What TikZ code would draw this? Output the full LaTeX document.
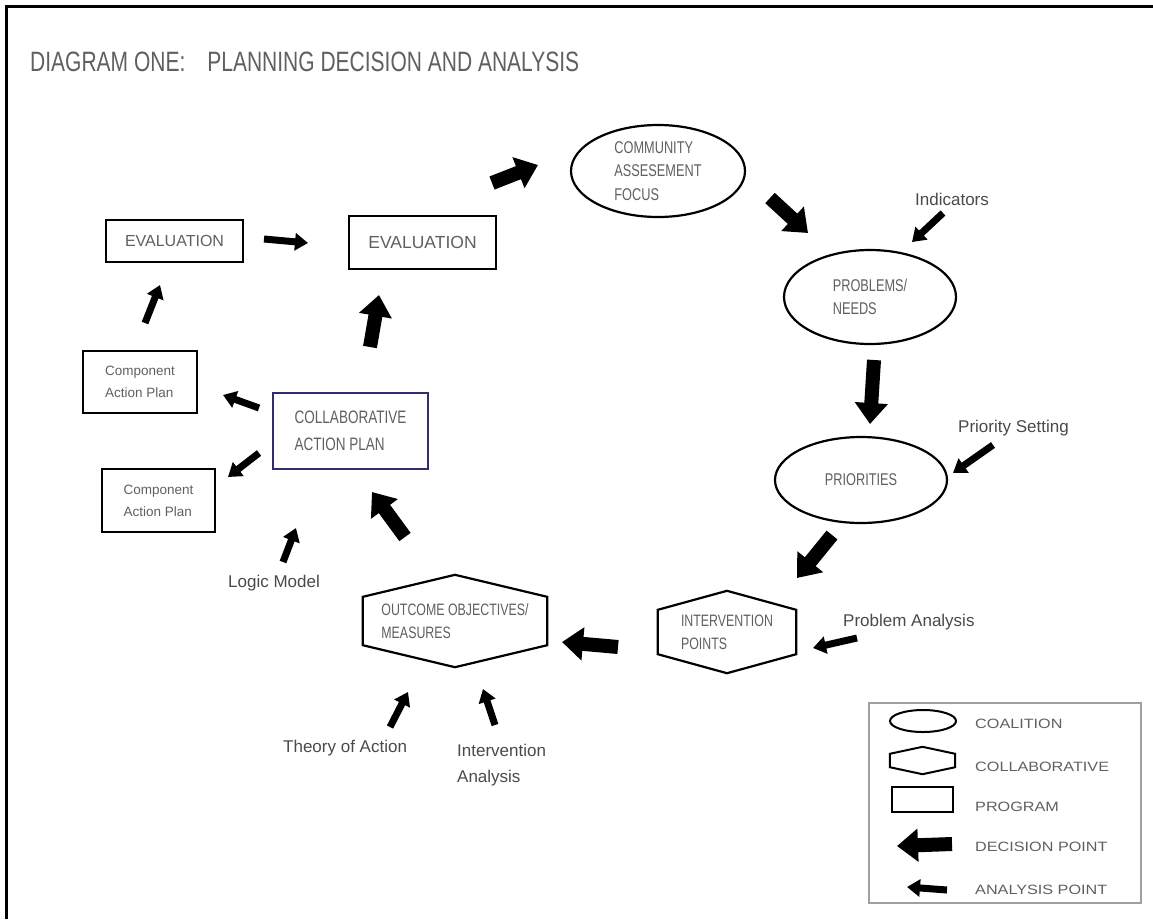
\documentclass[tikz,border=0pt]{standalone}
\usepackage{fontspec}
\setmainfont{Liberation Sans}
\newfontfamily\narrowfont{Liberation Sans}[FakeStretch=0.75]
\newfontfamily\widefont{Liberation Sans}[FakeStretch=1.2]
\usetikzlibrary{shapes.geometric,arrows.meta}
\definecolor{ink}{HTML}{606060}
\definecolor{labelink}{HTML}{4A4A4A}
\definecolor{navy}{HTML}{2E2E6E}
\definecolor{legendline}{HTML}{A0A0A0}

\tikzset{
  coalition/.style={ellipse, draw, line width=2.2pt, inner sep=0pt, text=ink, align=left,
    font=\narrowfont\fontsize{17}{23.5}\selectfont},
  collab/.style={draw=none, inner sep=0pt, text=ink, align=left,
    font=\narrowfont\fontsize{16.5}{23}\selectfont},
  program/.style={rectangle, draw, line width=2.2pt, inner sep=0pt, text=ink, align=left},
  decision/.style={line width=14pt, -{Triangle[length=21pt,width=32pt]}},
  analysis/.style={line width=7pt, -{Triangle[length=13pt,width=17pt]}},
  lbl/.style={text=labelink, inner sep=0pt, align=left, font=\fontsize{17}{26}\selectfont},
  legendlbl/.style={text=ink, inner sep=0pt, anchor=west, font=\widefont\fontsize{13.5}{16}\selectfont},
}

% hexagon outline around a text node: flat vertical sides, pointed top and bottom
\newcommand\hexoutline[3][2.2pt]{%
  \draw[line width=#1, line join=miter] (#2.north west) -- ([yshift=#3]#2.north)
    -- (#2.north east) -- (#2.south east) -- ([yshift=-#3]#2.south)
    -- (#2.south west) -- cycle;}

\begin{document}
\begin{tikzpicture}[x=1pt,y=-1pt]
\useasboundingbox (0,0) rectangle (1153,919);
\fill[white] (0,0) rectangle (1153,919);

% frame on the left and top
\draw[line width=3pt] (6,919) -- (6,6) -- (1153,6);

% title
\node[anchor=base west, inner sep=0pt, text=ink, font=\narrowfont\fontsize{28}{30}\selectfont]
  (title) at (30,71) {DIAGRAM ONE:\hspace{22pt}PLANNING DECISION AND ANALYSIS};

% coalition stages
\node[coalition, minimum width=174pt, minimum height=92pt] (comm) at (658,171)
  {COMMUNITY\\ASSESEMENT\\FOCUS};
\node[coalition, minimum width=172pt, minimum height=94pt] (prob) at (870,297)
  {PROBLEMS/\\NEEDS};
\node[coalition, minimum width=172pt, minimum height=86pt] (prio) at (861,480)
  {PRIORITIES};

% collaborative stages
\node[collab, minimum width=138pt, minimum height=44pt] (interv) at (727,632)
  {INTERVENTION\\POINTS};
\hexoutline{interv}{19pt}
\node[collab, minimum width=184pt, minimum height=48pt] (outc) at (455,621)
  {OUTCOME OBJECTIVES/\\MEASURES};
\hexoutline{outc}{22pt}

% program stages
\node[program, draw=navy, line width=1.8pt, minimum width=155pt, minimum height=76pt,
  font=\narrowfont\fontsize{18}{27}\selectfont] (cap) at (350.5,431)
  {COLLABORATIVE\\ACTION PLAN};
\node[program, minimum width=114pt, minimum height=62pt,
  font=\fontsize{13.5}{22}\selectfont] (comp1) at (140,382) {Component\\Action Plan};
\node[program, minimum width=113pt, minimum height=63pt,
  font=\fontsize{13.5}{22}\selectfont] (comp2) at (158.5,500.5) {Component\\Action Plan};
\node[program, minimum width=137pt, minimum height=42pt,
  font=\fontsize{16}{20}\selectfont] (eval1) at (174.5,241) {EVALUATION};
\node[program, line width=2.6pt, minimum width=147pt, minimum height=53pt,
  font=\fontsize{17.5}{20}\selectfont] (eval2) at (422.5,242.5) {EVALUATION};

% analysis labels
\node[lbl, anchor=west] (ind) at (915,199) {Indicators};
\node[lbl, anchor=west] (pset) at (958,428) {Priority Setting};
\node[lbl, anchor=west] (pana) at (843,622) {Problem Analysis};
\node[lbl, anchor=west] (logic) at (228,583) {Logic Model};
\node[lbl, anchor=west] (theory) at (283,748) {Theory of Action};
\node[lbl, anchor=west] (iana) at (457,765) {Intervention\\Analysis};

% arrow end points
\coordinate (d1a) at (492,183);  \coordinate (d1b) at (538,165);
\coordinate (d2a) at (770,198);  \coordinate (d2b) at (808,233);
\coordinate (d3a) at (874,360);  \coordinate (d3b) at (870,424);
\coordinate (d4a) at (832,535);  \coordinate (d4b) at (797,578);
\coordinate (d5a) at (618,647);  \coordinate (d5b) at (562,642);
\coordinate (d6a) at (405,537);  \coordinate (d6b) at (372,492);
\coordinate (d7a) at (370,347);  \coordinate (d7b) at (379,295);

\coordinate (a1a) at (943,213);  \coordinate (a1b) at (912,242);
\coordinate (a2a) at (993,445);  \coordinate (a2b) at (953,473);
\coordinate (a3a) at (857,638);  \coordinate (a3b) at (813,648);
\coordinate (a4a) at (390,727);  \coordinate (a4b) at (408,692);
\coordinate (a5a) at (495,725);  \coordinate (a5b) at (483,689);
\coordinate (a6a) at (283,562);  \coordinate (a6b) at (296,528);
\coordinate (a7a) at (259,408);  \coordinate (a7b) at (223,395);
\coordinate (a8a) at (259,453);  \coordinate (a8b) at (228,477);
\coordinate (a9a) at (145,323);  \coordinate (a9b) at (160,285);
\coordinate (a10a) at (264,239); \coordinate (a10b) at (308,243);

% decision points
\draw[decision] (d1a) -- (d1b);
\draw[decision] (d2a) -- (d2b);
\draw[decision] (d3a) -- (d3b);
\draw[decision] (d4a) -- (d4b);
\draw[decision] (d5a) -- (d5b);
\draw[decision] (d6a) -- (d6b);
\draw[decision] (d7a) -- (d7b);

% analysis points
\foreach \k in {1,...,10} \draw[analysis] (a\k a) -- (a\k b);

% legend
\node[draw=legendline, line width=1.4pt, minimum width=272pt, minimum height=200pt,
  inner sep=0pt] (legend) at (1005,803) {};
\node[ellipse, draw, line width=2pt, minimum width=66pt, minimum height=22pt, inner sep=0pt]
  (lgell) at (923,721) {};
\node[draw=none, minimum width=65pt, minimum height=13pt, inner sep=0pt] (lghex) at (922.5,760.5) {};
\hexoutline[2pt]{lghex}{7pt}
\node[rectangle, draw, line width=2.6pt, minimum width=61pt, minimum height=25pt, inner sep=0pt]
  (lgrect) at (922.5,799.5) {};
\coordinate (lgda) at (952,844); \coordinate (lgdb) at (897,846);
\coordinate (lgaa) at (947,890); \coordinate (lgab) at (907,887);
\draw[decision] (lgda) -- (lgdb);
\draw[analysis] (lgaa) -- (lgab);
\node[legendlbl] (lt1) at (975,724) {COALITION};
\node[legendlbl] (lt2) at (975,767) {COLLABORATIVE};
\node[legendlbl] (lt3) at (975,807) {PROGRAM};
\node[legendlbl] (lt4) at (975,847) {DECISION POINT};
\node[legendlbl] (lt5) at (975,890) {ANALYSIS POINT};
\end{tikzpicture}
\end{document}
